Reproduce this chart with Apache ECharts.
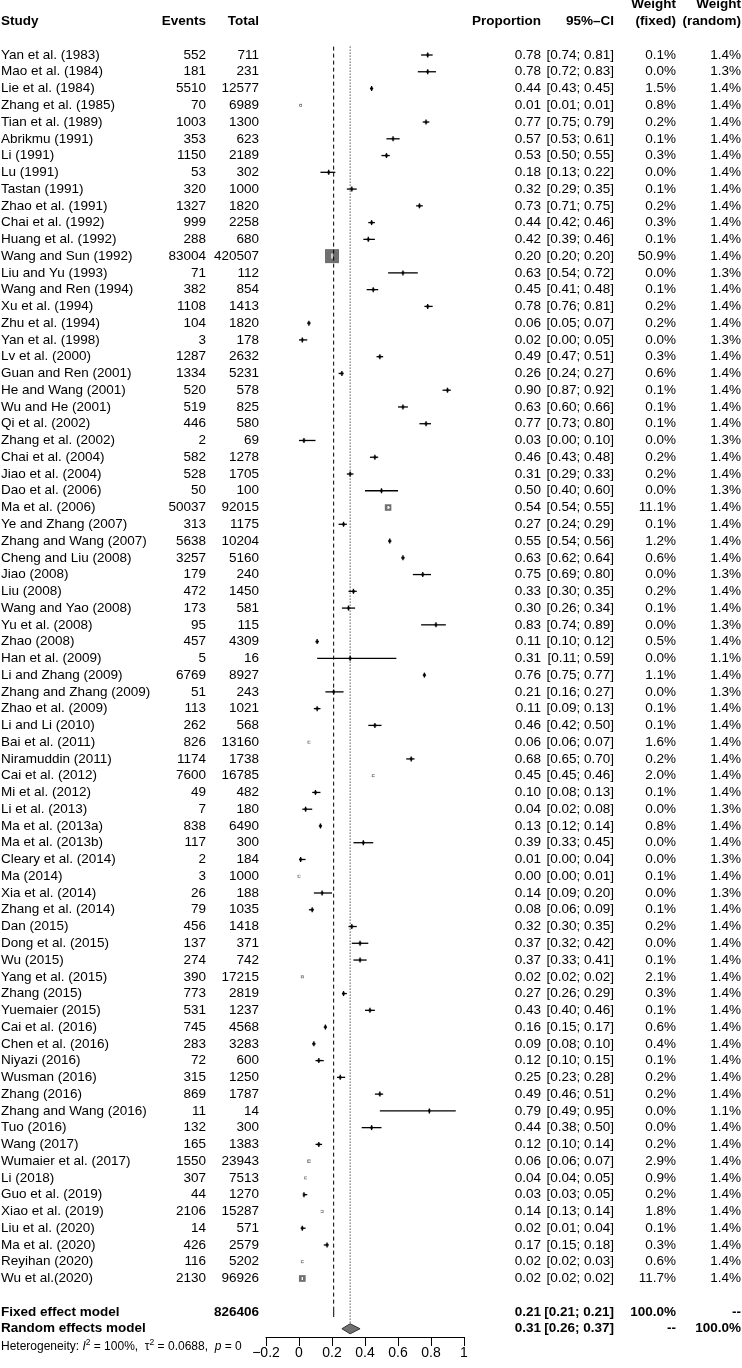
<!DOCTYPE html>
<html>
<head>
<meta charset="utf-8">
<script src="https://cdn.jsdelivr.net/npm/echarts@6/dist/echarts.min.js"></script>
<style>
html, body { margin: 0; padding: 0; background: #fff; }
#chart { width: 742px; height: 1368px; }
</style>
</head>
<body>
<div id="chart"></div>
<script>
var studies = ["Yan et al. (1983)", "Mao et al. (1984)", "Lie et al. (1984)", "Zhang et al. (1985)", "Tian et al. (1989)",
  "Abrikmu (1991)", "Li (1991)", "Lu (1991)", "Tastan (1991)", "Zhao et al. (1991)", "Chai et al. (1992)",
  "Huang et al. (1992)", "Wang and Sun (1992)", "Liu and Yu (1993)", "Wang and Ren (1994)", "Xu et al. (1994)",
  "Zhu et al. (1994)", "Yan et al. (1998)", "Lv et al. (2000)", "Guan and Ren (2001)", "He and Wang (2001)",
  "Wu and He (2001)", "Qi et al. (2002)", "Zhang et al. (2002)", "Chai et al. (2004)", "Jiao et al. (2004)",
  "Dao et al. (2006)", "Ma et al. (2006)", "Ye and Zhang (2007)", "Zhang and Wang (2007)", "Cheng and Liu (2008)",
  "Jiao (2008)", "Liu (2008)", "Wang and Yao (2008)", "Yu et al. (2008)", "Zhao (2008)", "Han et al. (2009)",
  "Li and Zhang (2009)", "Zhang and Zhang (2009)", "Zhao et al. (2009)", "Li and Li (2010)", "Bai et al. (2011)",
  "Niramuddin (2011)", "Cai et al. (2012)", "Mi et al. (2012)", "Li et al. (2013)", "Ma et al. (2013a)",
  "Ma et al. (2013b)", "Cleary et al. (2014)", "Ma (2014)", "Xia et al. (2014)", "Zhang et al. (2014)",
  "Dan (2015)", "Dong et al. (2015)", "Wu (2015)", "Yang et al. (2015)", "Zhang (2015)", "Yuemaier (2015)",
  "Cai et al. (2016)", "Chen et al. (2016)", "Niyazi (2016)", "Wusman (2016)", "Zhang (2016)",
  "Zhang and Wang (2016)", "Tuo (2016)", "Wang (2017)", "Wumaier et al. (2017)", "Li (2018)", "Guo et al. (2019)",
  "Xiao et al. (2019)", "Liu et al. (2020)", "Ma et al. (2020)", "Reyihan (2020)", "Wu et al.(2020)"];
var events = [552, 181, 5510, 70, 1003, 353, 1150, 53, 320, 1327, 999, 288, 83004, 71, 382, 1108, 104, 3, 1287, 1334,
  520, 519, 446, 2, 582, 528, 50, 50037, 313, 5638, 3257, 179, 472, 173, 95, 457, 5, 6769, 51, 113, 262, 826, 1174,
  7600, 49, 7, 838, 117, 2, 3, 26, 79, 456, 137, 274, 390, 773, 531, 745, 283, 72, 315, 869, 11, 132, 165, 1550, 307,
  44, 2106, 14, 426, 116, 2130];
var totals = [711, 231, 12577, 6989, 1300, 623, 2189, 302, 1000, 1820, 2258, 680, 420507, 112, 854, 1413, 1820, 178,
  2632, 5231, 578, 825, 580, 69, 1278, 1705, 100, 92015, 1175, 10204, 5160, 240, 1450, 581, 115, 4309, 16, 8927, 243,
  1021, 568, 13160, 1738, 16785, 482, 180, 6490, 300, 184, 1000, 188, 1035, 1418, 371, 742, 17215, 2819, 1237, 4568,
  3283, 600, 1250, 1787, 14, 300, 1383, 23943, 7513, 1270, 15287, 571, 2579, 5202, 96926];
var props = [0.78, 0.78, 0.44, 0.01, 0.77, 0.57, 0.53, 0.18, 0.32, 0.73, 0.44, 0.42, 0.20, 0.63, 0.45, 0.78, 0.06,
  0.02, 0.49, 0.26, 0.90, 0.63, 0.77, 0.03, 0.46, 0.31, 0.50, 0.54, 0.27, 0.55, 0.63, 0.75, 0.33, 0.30, 0.83, 0.11,
  0.31, 0.76, 0.21, 0.11, 0.46, 0.06, 0.68, 0.45, 0.10, 0.04, 0.13, 0.39, 0.01, 0.00, 0.14, 0.08, 0.32, 0.37, 0.37,
  0.02, 0.27, 0.43, 0.16, 0.09, 0.12, 0.25, 0.49, 0.79, 0.44, 0.12, 0.06, 0.04, 0.03, 0.14, 0.02, 0.17, 0.02, 0.02];
var ciLow = [0.74, 0.72, 0.43, 0.01, 0.75, 0.53, 0.50, 0.13, 0.29, 0.71, 0.42, 0.39, 0.20, 0.54, 0.41, 0.76, 0.05,
  0.00, 0.47, 0.24, 0.87, 0.60, 0.73, 0.00, 0.43, 0.29, 0.40, 0.54, 0.24, 0.54, 0.62, 0.69, 0.30, 0.26, 0.74, 0.10,
  0.11, 0.75, 0.16, 0.09, 0.42, 0.06, 0.65, 0.45, 0.08, 0.02, 0.12, 0.33, 0.00, 0.00, 0.09, 0.06, 0.30, 0.32, 0.33,
  0.02, 0.26, 0.40, 0.15, 0.08, 0.10, 0.23, 0.46, 0.49, 0.38, 0.10, 0.06, 0.04, 0.03, 0.13, 0.01, 0.15, 0.02, 0.02];
var ciHigh = [0.81, 0.83, 0.45, 0.01, 0.79, 0.61, 0.55, 0.22, 0.35, 0.75, 0.46, 0.46, 0.20, 0.72, 0.48, 0.81, 0.07,
  0.05, 0.51, 0.27, 0.92, 0.66, 0.80, 0.10, 0.48, 0.33, 0.60, 0.55, 0.29, 0.56, 0.64, 0.80, 0.35, 0.34, 0.89, 0.12,
  0.59, 0.77, 0.27, 0.13, 0.50, 0.07, 0.70, 0.46, 0.13, 0.08, 0.14, 0.45, 0.04, 0.01, 0.20, 0.09, 0.35, 0.42, 0.41,
  0.02, 0.29, 0.46, 0.17, 0.10, 0.15, 0.28, 0.51, 0.95, 0.50, 0.14, 0.07, 0.05, 0.05, 0.14, 0.04, 0.18, 0.03, 0.02];
var wFixed = [0.1, 0.0, 1.5, 0.8, 0.2, 0.1, 0.3, 0.0, 0.1, 0.2, 0.3, 0.1, 50.9, 0.0, 0.1, 0.2, 0.2, 0.0, 0.3, 0.6,
  0.1, 0.1, 0.1, 0.0, 0.2, 0.2, 0.0, 11.1, 0.1, 1.2, 0.6, 0.0, 0.2, 0.1, 0.0, 0.5, 0.0, 1.1, 0.0, 0.1, 0.1, 1.6, 0.2,
  2.0, 0.1, 0.0, 0.8, 0.0, 0.0, 0.1, 0.0, 0.1, 0.2, 0.0, 0.1, 2.1, 0.3, 0.1, 0.6, 0.4, 0.1, 0.2, 0.2, 0.0, 0.0, 0.2,
  2.9, 0.9, 0.2, 1.8, 0.1, 0.3, 0.6, 11.7];
var wRandom = [1.4, 1.3, 1.4, 1.4, 1.4, 1.4, 1.4, 1.4, 1.4, 1.4, 1.4, 1.4, 1.4, 1.3, 1.4, 1.4, 1.4, 1.3, 1.4, 1.4,
  1.4, 1.4, 1.4, 1.3, 1.4, 1.4, 1.3, 1.4, 1.4, 1.4, 1.4, 1.3, 1.4, 1.4, 1.3, 1.4, 1.1, 1.4, 1.3, 1.4, 1.4, 1.4, 1.4,
  1.4, 1.4, 1.3, 1.4, 1.4, 1.3, 1.4, 1.3, 1.4, 1.4, 1.4, 1.4, 1.4, 1.4, 1.4, 1.4, 1.4, 1.4, 1.4, 1.4, 1.1, 1.4, 1.4,
  1.4, 1.4, 1.4, 1.4, 1.4, 1.4, 1.4, 1.4];

// pooled results: fixed, random
var modelNames = ["Fixed effect model", "Random effects model"];
var modelEst = [0.21, 0.31];
var modelLow = [0.21, 0.26];
var modelHigh = [0.21, 0.37];
var modelWFixed = ["100.0%", "--"];
var modelWRandom = ["--", "100.0%"];
var totalN = 826406;
var xTicks = [-0.2, 0, 0.2, 0.4, 0.6, 0.8, 1];

var FONT = '"Liberation Sans", Arial, Helvetica, sans-serif';
var fixedRow = studies.length + 1, randomRow = studies.length + 2, hetRow = studies.length + 3;

var f2 = function(v) { return v.toFixed(2) };
var ci = function(a, b) { return "[" + f2(a) + "; " + f2(b) + "]" };

// text table, one entry per printed row
var rows = [];
rows.push({ row: -3, cells: [
  { t: "Weight", x: 676, a: "right", b: 1 }, { t: "Weight", x: 741, a: "right", b: 1 }] });
rows.push({ row: -2, cells: [
  { t: "Study", x: 1, a: "left", b: 1 }, { t: "Events", x: 206, a: "right", b: 1 },
  { t: "Total", x: 259, a: "right", b: 1 }, { t: "Proportion", x: 541, a: "right", b: 1 },
  { t: "95%\u2013CI", x: 614, a: "right", b: 1 }, { t: "(fixed)", x: 676, a: "right", b: 1 },
  { t: "(random)", x: 741, a: "right", b: 1 }] });
for (var i = 0; i < studies.length; i++) {
  rows.push({ row: i, cells: [
    { t: studies[i], x: 1, a: "left" }, { t: String(events[i]), x: 206, a: "right" },
    { t: String(totals[i]), x: 259, a: "right" }, { t: f2(props[i]), x: 541, a: "right" },
    { t: ci(ciLow[i], ciHigh[i]), x: 614, a: "right" }, { t: wFixed[i].toFixed(1) + "%", x: 676, a: "right" },
    { t: wRandom[i].toFixed(1) + "%", x: 741, a: "right" }] });
}
rows.push({ row: fixedRow, cells: [
  { t: modelNames[0], x: 1, a: "left", b: 1 }, { t: String(totalN), x: 259, a: "right", b: 1 },
  { t: f2(modelEst[0]), x: 541, a: "right", b: 1 }, { t: ci(modelLow[0], modelHigh[0]), x: 614, a: "right", b: 1 },
  { t: modelWFixed[0], x: 676, a: "right", b: 1 }, { t: modelWRandom[0], x: 741, a: "right", b: 1 }] });
rows.push({ row: randomRow, cells: [
  { t: modelNames[1], x: 1, a: "left", b: 1 },
  { t: f2(modelEst[1]), x: 541, a: "right", b: 1 }, { t: ci(modelLow[1], modelHigh[1]), x: 614, a: "right", b: 1 },
  { t: modelWFixed[1], x: 676, a: "right", b: 1 }, { t: modelWRandom[1], x: 741, a: "right", b: 1 }] });
rows.push({ row: hetRow, cells: [{ x: 1, a: "left", het: 1,
  t: "{n|Heterogeneity: }{i|I}{s|2}{n| = 100%,  \u03c4}{s|2}{n| = 0.0688,  }{i|p}{n| = 0}" }] });

var chart = echarts.init(document.getElementById("chart"), null, { renderer: "canvas" });

var textItem = function(params, api) {
  var r = rows[params.dataIndex];
  var y = api.coord([0, r.row])[1];
  return {
    type: "group",
    children: r.cells.map(function(c) {
      var st = {
        text: c.t, x: c.x, y: y, align: c.a, verticalAlign: "middle", fill: "#000",
        font: (c.b ? "bold " : "") + "13.5px " + FONT
      };
      if (c.het) {
        st.font = "12px " + FONT;
        st.rich = {
          n: { fontSize: 12, fontFamily: FONT, lineHeight: 14, verticalAlign: "bottom" },
          i: { fontSize: 12, fontFamily: FONT, fontStyle: "italic", lineHeight: 14, verticalAlign: "bottom" },
          s: { fontSize: 8.5, fontFamily: FONT, lineHeight: 7, verticalAlign: "top" }
        };
      }
      return { type: "text", style: st };
    })
  };
};

var forestItem = function(params, api) {
  var est = api.value(0), r = api.value(1), lo = api.value(2), hi = api.value(3), w = api.value(4);
  var c = api.coord([est, r]), pl = api.coord([lo, r]), ph = api.coord([hi, r]);
  var side = Math.max(2.8, 1.962 * Math.sqrt(w));
  var inside = (ph[0] - pl[0]) < side;
  var col = inside ? "#fff" : "#000";
  var th = inside ? Math.min(5, side * 0.45) : 5;
  return {
    type: "group",
    children: [
      { type: "rect", shape: { x: c[0] - side / 2, y: c[1] - side / 2, width: side, height: side },
        style: { fill: "#707070" } },
      { type: "line", shape: { x1: pl[0], y1: c[1], x2: ph[0], y2: c[1] },
        style: { stroke: col, lineWidth: 1.3 } },
      { type: "line", shape: { x1: c[0], y1: c[1] - th / 2, x2: c[0], y2: c[1] + th / 2 },
        style: { stroke: col, lineWidth: 1.3 } }
    ]
  };
};

var diamondItem = function(params, api) {
  var est = api.value(0), r = api.value(1), lo = api.value(2), hi = api.value(3);
  var pts = [api.coord([lo, r]), api.coord([est, r - 0.3]), api.coord([hi, r]), api.coord([est, r + 0.3])];
  return {
    type: "polygon",
    shape: { points: pts },
    style: { fill: "#707070", stroke: "#333", lineWidth: 1 }
  };
};

var forestData = studies.map(function(s, i) {
  return [props[i], i, ciLow[i], ciHigh[i], wFixed[i]];
});
var diamondData = modelEst.map(function(e, k) {
  return [e, fixedRow + k, modelLow[k], modelHigh[k]];
});

var option = {
  backgroundColor: "#fff",
  animation: false,
  grid: [
    { left: 266, width: 198, top: 4.72, height: 81 * 16.76 },
    { left: 266, width: 198, top: 1300, height: 37 }
  ],
  xAxis: [
    { gridIndex: 0, type: "value", min: -0.2, max: 1, show: false },
    { gridIndex: 1, type: "value", min: -0.2, max: 1, interval: 0.2,
      axisLine: { show: true, onZero: false, lineStyle: { color: "#000", width: 1 } },
      axisTick: { show: true, length: 9, lineStyle: { color: "#000", width: 1 } },
      splitLine: { show: false },
      axisLabel: {
        color: "#000", fontSize: 14, fontFamily: FONT, margin: 9,
        formatter: function(v) {
          var k = Math.round(v * 10) / 10;
          for (var j = 0; j < xTicks.length; j++)
            if (Math.abs(xTicks[j] - k) < 1e-9)
              return (k === 0 || k === 1) ? String(k) : k.toFixed(1).replace("-", "\u2212");
          return "";
        }
      }
    }
  ],
  yAxis: [
    { gridIndex: 0, type: "value", inverse: true, min: -3, max: 78, show: false },
    { gridIndex: 1, type: "value", min: 0, max: 1, show: false }
  ],
  series: [
    {
      type: "line", xAxisIndex: 0, yAxisIndex: 0, silent: true, showSymbol: false, symbol: "none",
      lineStyle: { color: "#000", width: 1, type: [4, 3] },
      data: [[modelEst[0], -0.5], [modelEst[0], fixedRow - 0.3]]
    },
    {
      type: "line", xAxisIndex: 0, yAxisIndex: 0, silent: true, showSymbol: false, symbol: "none",
      lineStyle: { color: "#000", width: 1, type: [1, 2] },
      data: [[modelEst[1], -0.5], [modelEst[1], randomRow - 0.3]]
    },
    {
      type: "custom", xAxisIndex: 0, yAxisIndex: 0, silent: true, clip: false,
      renderItem: forestItem, data: forestData
    },
    {
      type: "custom", xAxisIndex: 0, yAxisIndex: 0, silent: true, clip: false,
      renderItem: diamondItem, data: diamondData
    },
    {
      type: "custom", xAxisIndex: 0, yAxisIndex: 0, silent: true, clip: false,
      renderItem: textItem, data: rows.map(function(r) { return [0, r.row] })
    }
  ]
};
chart.setOption(option);
</script>
</body>
</html>
